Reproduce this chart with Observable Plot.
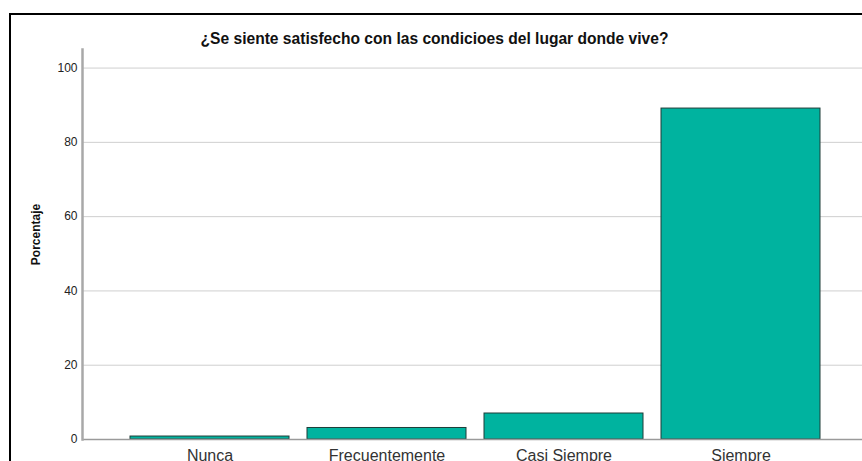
<!DOCTYPE html>
<html>
<head>
<meta charset="utf-8">
<script src="https://cdn.jsdelivr.net/npm/d3@7"></script>
<script src="https://cdn.jsdelivr.net/npm/@observablehq/plot@0.6"></script>
<style>
  html, body { margin: 0; padding: 0; background: #fff; overflow: hidden; }
  #wrap { position: relative; width: 862px; height: 461px; }
  #border { position: absolute; left: 9px; top: 13px; width: 900px; height: 500px;
            border-left: 2px solid #000; border-top: 2px solid #000; }
  #chart { position: absolute; left: 0; top: 0; }
</style>
</head>
<body>
<div id="wrap"><div id="border"></div><div id="chart"></div></div>
<script>
const title = "¿Se siente satisfecho con las condicioes del lugar donde vive?";
const yLabel = "Porcentaje";
const categories = ["Nunca", "Frecuentemente", "Casi Siempre", "Siempre"];
const percents = [0.8, 3.1, 7.0, 89.1];
const yTicks = [0, 20, 40, 60, 80, 100];

const data = categories.map((c, i) => ({category: c, value: percents[i]}));

const chart = Plot.plot({
  width: 862,
  height: 461,
  marginLeft: 82,
  marginRight: -6,
  marginTop: 49,
  marginBottom: 22,
  style: {fontFamily: "Liberation Sans, Arial, sans-serif", background: "transparent", overflow: "visible"},
  x: {domain: categories, paddingInner: 0.1, paddingOuter: 0.27, label: null},
  y: {domain: [0, 105], label: null},
  marks: [
    Plot.gridY(yTicks.filter(d => d > 0), {stroke: "#cfcfcf", strokeOpacity: 1, strokeWidth: 1}),
    Plot.barY(data, {x: "category", y: "value", fill: "#00b39f", stroke: "#1e3d38", strokeWidth: 1}),
    Plot.ruleY([0], {stroke: "#9a9a9a", strokeWidth: 1.5}),
    Plot.frame({anchor: "left", stroke: "#a8a8a8", strokeWidth: 2.5}),
    Plot.axisY({ticks: yTicks, tickSize: 0, tickPadding: 5, fontSize: 12, fill: "#222", label: null}),
    Plot.axisX({tickSize: 0, tickPadding: 10, fontSize: 16, fill: "#333", label: null}),
    Plot.text([title], {frameAnchor: "top", dx: -41, dy: -6, lineAnchor: "bottom", fontSize: 15.6, fontWeight: "bold", fill: "#111"}),
    Plot.text([yLabel], {frameAnchor: "left", textAnchor: "middle", rotate: -90, dx: -46, dy: -10, fontSize: 12, fontWeight: "bold", fill: "#111"})
  ]
});
document.getElementById("chart").appendChild(chart);
</script>
</body>
</html>
